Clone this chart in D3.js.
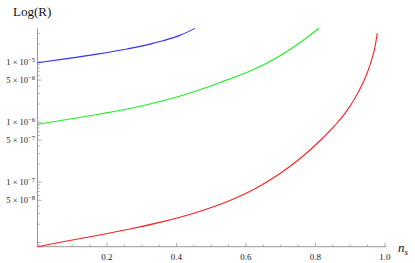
<!DOCTYPE html>
<html><head><meta charset="utf-8">
<script src="https://cdn.jsdelivr.net/npm/d3@7"></script>
<style>body{margin:0;background:#fff}svg{display:block}
svg text{font-family:"Liberation Serif","DejaVu Serif","Times New Roman",serif}</style>
</head><body>
<script>
// n_s values and Log(R) values
const blueN = [0, 0.085, 0.171, 0.258, 0.324, 0.361, 0.41, 0.453];
const blueR = [9.74e-6, 1.138e-5, 1.352e-5, 1.652e-5, 1.983e-5, 2.254e-5, 2.776e-5, 3.63e-5];
const greenN = [0, 0.0935, 0.18, 0.266, 0.3525, 0.439, 0.525, 0.6115, 0.669, 0.7266, 0.7698, 0.81];
const greenR = [9.19e-7, 1.126e-6, 1.364e-6, 1.683e-6, 2.203e-6, 3.05e-6, 4.56e-6, 7.09e-6, 1.019e-5, 1.614e-5, 2.414e-5, 3.64e-5];
const redN = [0, 0.073, 0.171, 0.266, 0.361, 0.459, 0.554, 0.626, 0.698, 0.755, 0.813, 0.856, 0.885, 0.914, 0.934, 0.951, 0.963, 0.971, 0.978];
const redR = [8.45e-9, 1.019e-8, 1.297e-8, 1.66e-8, 2.206e-8, 3.166e-8, 4.96e-8, 7.76e-8, 1.396e-7, 2.455e-7, 4.9e-7, 8.81e-7, 1.396e-6, 2.512e-6, 4.17e-6, 7.08e-6, 1.148e-5, 1.738e-5, 3.02e-5];
const xTickLabels = ["0.2", "0.4", "0.6", "0.8", "1.0"];
const xTickValues = [0.2, 0.4, 0.6, 0.8, 1.0];
const yLabelMant = [1, 5, 1, 5, 1, 5];
const yLabelExp = [-5, -6, -6, -7, -7, -8];

const W = 415, H = 263;
const svg = d3.select("body").append("svg").attr("width", W).attr("height", H);
const x = d3.scaleLinear().domain([0, 1.0045]).range([37.5, 386.5]);
const y = d3.scaleLog().domain([8.45e-9, 3.64e-5]).range([246.7, 28.3]);
const axisColor = "#999";

// axes lines
svg.append("line").attr("x1", x(0)).attr("x2", x(1.0045)).attr("y1", 246.7).attr("y2", 246.7)
  .attr("stroke", axisColor).attr("stroke-width", 1);
svg.append("line").attr("x1", 37.5).attr("x2", 37.5).attr("y1", 28.3).attr("y2", 246.7)
  .attr("stroke", axisColor).attr("stroke-width", 1);

// x ticks
const xMinor = d3.range(1, 21).map(i => i * 0.05);
xMinor.forEach(v => {
  const major = Math.abs(v * 5 - Math.round(v * 5)) < 1e-6;
  svg.append("line").attr("x1", x(v)).attr("x2", x(v))
    .attr("y1", 246.7).attr("y2", 246.7 - (major ? 4 : 2.2))
    .attr("stroke", axisColor).attr("stroke-width", 0.8);
});
xTickValues.forEach((v, i) => {
  svg.append("text").attr("x", x(v)).attr("y", 259.5).attr("text-anchor", "middle")
    .attr("font-size", 9).attr("fill", "#222").text(xTickLabels[i]);
});

// y ticks
for (let d = -9; d <= -5; d++) {
  for (let k = 1; k <= 9; k++) {
    const v = k * Math.pow(10, d);
    if (v < 8.45e-9 || v > 3.64e-5) continue;
    const major = (k === 1 || k === 5);
    svg.append("line").attr("x1", 37.5).attr("x2", 37.5 + (major ? 4 : 2.2))
      .attr("y1", y(v)).attr("y2", y(v))
      .attr("stroke", axisColor).attr("stroke-width", 0.8);
  }
}
yLabelMant.forEach((m, i) => {
  const v = m * Math.pow(10, yLabelExp[i]);
  const t = svg.append("text").attr("x", 35).attr("y", y(v) + 3)
    .attr("text-anchor", "end").attr("font-size", 8.5).attr("fill", "#222");
  t.append("tspan").text(m + " \u00d7 10");
  t.append("tspan").attr("dy", -3.5).attr("font-size", 6.5).text("\u2212" + Math.abs(yLabelExp[i]));
});

// axis labels
svg.append("text").attr("x", 13).attr("y", 15.5).attr("font-size", 13)
  .attr("fill", "#111").text("Log(R)");
const nl = svg.append("text").attr("x", 398).attr("y", 252)
  .attr("font-size", 13).attr("font-style", "italic").attr("fill", "#111");
nl.append("tspan").text("n");
nl.append("tspan").attr("dy", 2.5).attr("font-size", 9).text("s");

// curves
const line = d3.line().x(d => x(d[0])).y(d => y(d[1])).curve(d3.curveMonotoneX);
const series = [
  {n: blueN, r: blueR, c: "#3030ff"},
  {n: greenN, r: greenR, c: "#20f020"},
  {n: redN, r: redR, c: "#ff2020"}
];
series.forEach(s => {
  svg.append("path").datum(s.n.map((v, i) => [v, s.r[i]]))
    .attr("d", line).attr("fill", "none").attr("stroke", s.c).attr("stroke-width", 1.1);
});
</script>
</body></html>
